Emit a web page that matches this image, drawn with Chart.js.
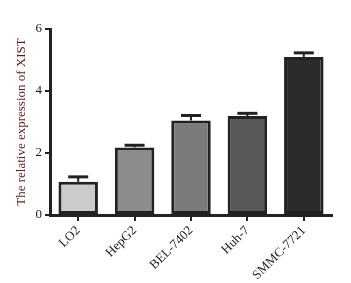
<!DOCTYPE html>
<html>
<head>
<meta charset="utf-8">
<script src="https://cdn.jsdelivr.net/npm/chart.js@4.4.0/dist/chart.umd.min.js"></script>
<style>
  html, body { margin: 0; padding: 0; background: #fff; }
  #wrap { width: 351px; height: 283px; }
</style>
</head>
<body>
<div id="wrap"><canvas id="bar-chart"></canvas></div>
<script>
// values
var cellLines = ['LO2', 'HepG2', 'BEL-7402', 'Huh-7', 'SMMC-7721'];
var xistExpr = [1.07, 2.18, 3.05, 3.19, 5.10];
var xistErr = [0.16, 0.07, 0.16, 0.09, 0.13];
var yTicks = [0, 2, 4, 6];

var barColors = ['#cbcbcb', '#8c8c8f', '#7b7b7e', '#58585a', '#2b2b2b'];
var ink = '#222222';

// simple error bar drawing (upper whisker + cap)
var errorBars = {
  id: 'errorBars',
  afterDatasetsDraw: function(chart) {
    var ctx = chart.ctx;
    var meta = chart.getDatasetMeta(0);
    var yScale = chart.scales.y;
    ctx.save();
    ctx.strokeStyle = ink;
    meta.data.forEach(function(bar, i) {
      var top = yScale.getPixelForValue(xistExpr[i] + xistErr[i]);
      ctx.lineWidth = 2;
      ctx.beginPath();
      ctx.moveTo(bar.x, bar.y);
      ctx.lineTo(bar.x, top);
      ctx.stroke();
      ctx.lineWidth = 3;
      ctx.beginPath();
      ctx.moveTo(bar.x - 10, top);
      ctx.lineTo(bar.x + 10, top);
      ctx.stroke();
    });
    ctx.restore();
  }
};

var config1 = {
  type: 'bar',
  data: {
    labels: cellLines,
    datasets: [{
      data: xistExpr,
      backgroundColor: barColors,
      borderColor: ink,
      borderWidth: 3,
      borderSkipped: false,
      categoryPercentage: 0.7,
      barPercentage: 1.0
    }]
  },
  options: {
    responsive: false,
    animation: false,
    devicePixelRatio: 1,
    layout: { padding: { top: 29, right: 19, left: 14, bottom: 0 } },
    plugins: { legend: { display: false }, tooltip: { enabled: false } },
    scales: {
      x: {
        offset: true,
        grid: { offset: false, drawOnChartArea: false, drawTicks: true, tickLength: 6, color: ink, lineWidth: 2 },
        border: { color: ink, width: 3 },
        ticks: {
          color: '#1a1a1a',
          font: { family: 'Liberation Serif', size: 13 },
          maxRotation: 45, minRotation: 45, padding: 2
        },
        afterFit: function(scale) { scale.height = 68; }
      },
      y: {
        min: 0, max: 6,
        afterBuildTicks: function(scale) {
          scale.ticks = yTicks.map(function(v) { return { value: v }; });
        },
        grid: { drawOnChartArea: false, drawTicks: true, tickLength: 5, color: ink, lineWidth: 2 },
        border: { color: ink, width: 3 },
        ticks: { color: '#1a1a1a', font: { family: 'Liberation Serif', size: 13 }, padding: 3 },
        title: {
          display: true,
          text: 'The relative expression of XIST',
          color: '#5a1e1e',
          font: { family: 'Liberation Serif', size: 13 },
          padding: { top: 0, bottom: 4 }
        },
        afterFit: function(scale) { scale.width = 36; }
      }
    }
  },
  plugins: [errorBars]
};

window.onload = function() {
  var cv = document.getElementById('bar-chart');
  cv.width = 351; cv.height = 283;
  var ctx1 = cv.getContext('2d');
  window.myBar = new Chart(ctx1, config1);
};
</script>
</body>
</html>
